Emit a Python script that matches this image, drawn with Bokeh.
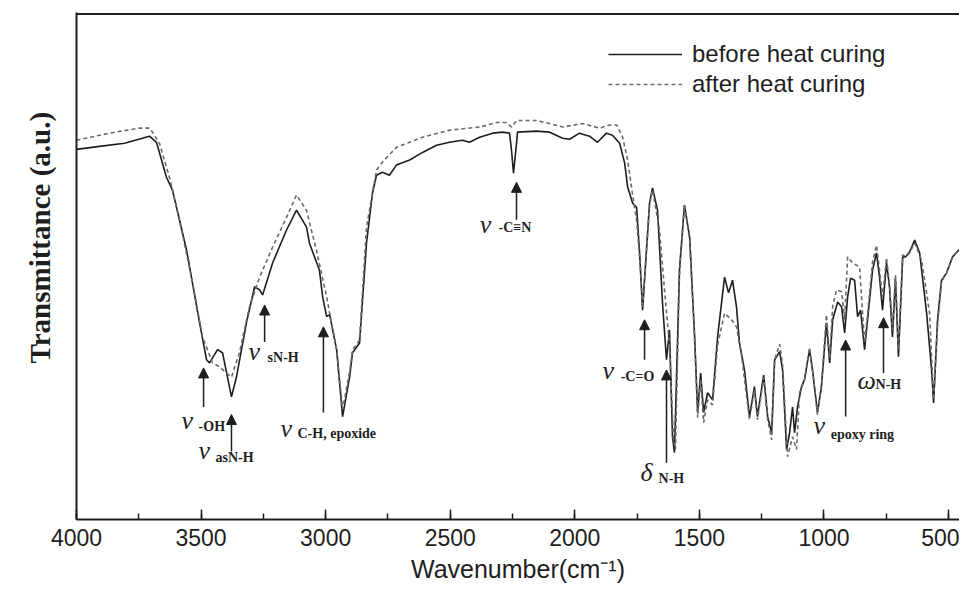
from bokeh.plotting import figure
from bokeh.models import (Range1d, SingleIntervalTicker, Span, Arrow, NormalHead,
                          Legend, LegendItem, ColumnDataSource, Title)
from bokeh.core.properties import value
from bokeh.embed import file_html
from bokeh.resources import INLINE

# ---------------- data (wavenumber cm^-1, transmittance a.u.) ----------------
before_wn = [4000, 3908, 3807, 3707, 3679, 3639, 3615, 3558, 3506, 3478, 3466, 3434, 3414,
             3378, 3358, 3318, 3285, 3265, 3253, 3213, 3157, 3117, 3077, 3065, 3025, 3012,
             2996, 2984, 2956, 2932, 2904, 2892, 2864, 2836, 2812, 2796, 2772, 2744, 2716,
             2663, 2611, 2555, 2503, 2451, 2423, 2382, 2330, 2290, 2262, 2254, 2246, 2234,
             2230, 2154, 2101, 2049, 2021, 1981, 1941, 1909, 1873, 1849, 1820, 1800, 1788,
             1768, 1752, 1740, 1728, 1700, 1688, 1668, 1648, 1632, 1620, 1608, 1600, 1580,
             1560, 1539, 1519, 1507, 1495, 1483, 1467, 1447, 1427, 1399, 1383, 1367, 1351,
             1339, 1319, 1299, 1279, 1267, 1242, 1226, 1210, 1198, 1178, 1166, 1150, 1138,
             1126, 1118, 1106, 1090, 1078, 1058, 1046, 1026, 1010, 990, 977, 965, 945, 929,
             917, 905, 893, 877, 865, 853, 837, 825, 805, 789, 777, 765, 749, 737, 725, 713,
             701, 684, 672, 656, 636, 616, 588, 568, 560, 544, 528, 508, 484, 448, 428]
before_t = [73.0, 73.6, 74.2, 75.6, 74.4, 67.5, 65.0, 53.1, 38.8, 31.5, 30.9, 33.5, 32.9,
            24.2, 28.1, 38.8, 45.9, 45.3, 44.3, 50.6, 57.1, 61.0, 57.7, 54.5, 49.2, 43.9,
            40.0, 40.4, 33.5, 20.3, 28.1, 32.9, 34.8, 54.5, 64.4, 67.9, 68.5, 67.9, 69.9,
            70.9, 72.4, 73.8, 74.4, 74.8, 74.4, 75.4, 76.2, 76.4, 76.2, 72.8, 68.3, 74.2,
            76.4, 76.6, 76.4, 75.2, 75.0, 76.2, 75.6, 74.4, 76.2, 75.8, 74.2, 70.3, 65.6,
            62.4, 61.6, 52.6, 41.3, 62.4, 65.4, 61.0, 42.7, 31.5, 37.4, 16.3, 13.2, 49.2,
            62.0, 55.7, 36.0, 21.1, 28.9, 21.1, 25.0, 23.6, 36.0, 47.8, 44.7, 47.2, 41.9,
            34.8, 29.5, 20.3, 26.2, 20.3, 28.5, 20.3, 17.1, 31.5, 33.1, 29.5, 13.8, 17.1,
            22.2, 17.1, 22.2, 26.2, 27.6, 33.5, 29.5, 21.1, 26.2, 38.8, 30.9, 39.4, 42.9, 41.9,
            36.8, 43.9, 47.6, 47.2, 40.0, 41.3, 33.5, 39.4, 49.2, 52.6, 47.8, 41.3, 50.6, 45.9, 36.0, 47.6,
            32.1, 51.8, 51.8, 52.8, 55.1, 52.6, 40.7, 29.5, 23.0, 39.4, 47.2, 48.6, 51.8, 53.7, 55.1]

after_wn = [4000, 3868, 3747, 3707, 3695, 3667, 3627, 3587, 3534, 3494, 3454, 3426, 3398,
            3378, 3346, 3306, 3265, 3213, 3157, 3117, 3077, 3037, 2996, 2984, 2956, 2932,
            2904, 2892, 2864, 2836, 2796, 2772, 2716, 2611, 2503, 2382, 2314, 2274, 2254,
            2234, 2154, 2101, 2049, 1969, 1901, 1861, 1832, 1808, 1788, 1768, 1752, 1736,
            1728, 1700, 1688, 1660, 1640, 1620, 1604, 1596, 1580, 1560, 1539, 1519, 1507,
            1495, 1483, 1467, 1447, 1427, 1399, 1371, 1351, 1331, 1299, 1279, 1267, 1242,
            1226, 1210, 1198, 1178, 1166, 1146, 1126, 1110, 1098, 1078, 1058, 1046, 1026,
            1010, 990, 977, 965, 949, 929, 917, 905, 885, 857, 837, 825, 805, 789, 777, 765,
            749, 737, 725, 713, 701, 684, 672, 656, 636, 608, 576, 560, 544, 528, 508, 484,
            448, 428]
after_t = [74.8, 76.2, 77.2, 77.2, 76.4, 74.2, 67.5, 59.1, 46.7, 36.0, 30.9, 30.1, 28.9,
           28.1, 32.9, 41.9, 47.8, 53.7, 59.6, 64.0, 61.0, 53.1, 43.9, 40.7, 33.5, 21.7,
           29.1, 33.5, 35.4, 57.7, 68.9, 70.5, 73.4, 75.4, 76.8, 77.4, 78.3, 78.3, 77.4,
           78.7, 78.7, 78.1, 77.4, 78.1, 77.2, 77.8, 77.8, 75.4, 70.9, 64.0, 59.1, 49.2,
           41.7, 62.0, 65.0, 57.1, 45.3, 34.4, 15.7, 13.8, 48.2, 62.0, 55.1, 35.4, 20.1,
           27.6, 19.1, 23.6, 22.6, 34.4, 40.7, 39.4, 38.0, 32.5, 19.7, 25.6, 19.7, 28.0,
           19.7, 15.7, 31.5, 34.6, 30.5, 12.4, 16.3, 13.8, 25.0, 27.6, 33.9, 29.5, 20.7,
           26.6, 40.4, 31.9, 42.1, 45.3, 44.9, 39.4, 51.8, 50.6, 49.8, 34.8, 40.4, 50.8, 54.1, 49.2, 43.9,
           51.6, 46.3, 37.4, 48.2, 33.5, 52.2, 51.8, 52.6, 54.5, 51.2, 40.7, 23.6, 38.4, 46.9, 48.6, 51.8,
           53.7, 55.1]

series_labels = ["before heat curing", "after heat curing"]

# band assignments: symbol, subscript, arrow wavenumber, arrow tip / tail (a.u.),
# symbol anchor (wn, a.u.), subscript anchor (wn, a.u.)
ann_symbol = ["ν", "ν", "ν", "ν", "ν", "ν", "δ", "ν", "ω"]
ann_sub = ["-OH", "asN-H", "sN-H", "C-H, epoxide", "-C≡N", "-C=O", "N-H", "epoxy ring", "N-H"]
ann_arrow_wn = [3490, 3378, 3245, 3009, 2234, 1720, 1632, 913, 761]
ann_arrow_tip = [29.9, 20.7, 42.3, 38.0, 66.5, 39.4, 29.5, 35.4, 39.8]
ann_arrow_tail = [22.2, 13.4, 35.0, 21.1, 59.1, 31.5, 11.2, 20.3, 28.9]
ann_sym_wn = [3579, 3510, 3310, 3181, 2382, 1889, 1736, 1042, 865]
ann_sym_t = [19.5, 13.6, 33.1, 17.9, 58.1, 29.3, 9.3, 18.5, 27.4]
ann_sub_wn = [3510, 3442, 3233, 3113, 2306, 1816, 1664, 973, 793]
ann_sub_t = [18.3, 12.2, 31.9, 16.9, 57.5, 28.3, 8.1, 16.7, 26.6]

# ---------------- figure ----------------
INK = "#1e1e1e"
p = figure(width=959, height=587, output_backend="svg", toolbar_location=None,
           x_range=Range1d(4000, 456), y_range=Range1d(0, 100),
           min_border_left=76, min_border_right=0, min_border_top=12, min_border_bottom=68)
p.outline_line_color = None
p.grid.visible = False
p.background_fill_color = "white"

r1 = p.line(before_wn, before_t, line_color=INK, line_width=1.6)
r2 = p.line(after_wn, after_t, line_color="#6a6a6a", line_width=1.6, line_dash="4 3")

# x axis
xa = p.xaxis[0]
xa.ticker = SingleIntervalTicker(interval=500, num_minor_ticks=2)
xa.axis_line_width = 2
xa.axis_line_color = INK
xa.major_tick_in = 10
xa.major_tick_out = 0
xa.minor_tick_in = 6
xa.minor_tick_out = 0
xa.major_tick_line_width = 1.5
xa.minor_tick_line_width = 1.5
xa.major_tick_line_color = INK
xa.minor_tick_line_color = INK
xa.major_label_text_font = "Liberation Sans"
xa.major_label_text_font_size = "23px"
xa.major_label_text_color = INK
xa.major_label_standoff = 9
xa.axis_label = "Wavenumber(cm⁻¹)"
xa.axis_label_text_font = "Liberation Sans"
xa.axis_label_text_font_size = "25px"
xa.axis_label_text_font_style = "normal"
xa.axis_label_text_color = INK
xa.axis_label_standoff = 6

# y axis (no ticks)
ya = p.yaxis[0]
ya.ticker = []
ya.axis_line_width = 2
ya.axis_line_color = INK
ya.major_tick_line_color = None
ya.minor_tick_line_color = None
ya.major_label_text_font_size = "0px"

ytitle = Title(text="Transmittance (a.u.)", align="left", offset=156, standoff=38,
               vertical_align="top",
               text_font="Liberation Serif", text_font_size="29px", text_font_style="bold",
               text_color=INK)
p.add_layout(ytitle, "left")

p.add_layout(Span(location=99.7, dimension="width", line_color=INK, line_width=2))

# arrows
for wn, tip, tail in zip(ann_arrow_wn, ann_arrow_tip, ann_arrow_tail):
    p.add_layout(Arrow(x_start=wn, y_start=tail, x_end=wn, y_end=tip,
                       line_color=INK, line_width=1.5,
                       end=NormalHead(size=10, fill_color=INK, line_color=INK, line_width=1)))

sym_src = ColumnDataSource(dict(x=ann_sym_wn, y=ann_sym_t, t=ann_symbol))
sub_src = ColumnDataSource(dict(x=ann_sub_wn, y=ann_sub_t, t=ann_sub))
p.text(x="x", y="y", text="t", source=sym_src, text_font=value("Liberation Serif"),
       text_font_size="26px", text_font_style="italic", text_color=INK,
       text_align="left", text_baseline="middle")
p.text(x="x", y="y", text="t", source=sub_src, text_font=value("Liberation Serif"),
       text_font_size="14px", text_font_style="bold", text_color=INK,
       text_align="left", text_baseline="middle")

legend = Legend(items=[LegendItem(label=series_labels[0], renderers=[r1]),
                       LegendItem(label=series_labels[1], renderers=[r2])],
                location=(532, 421), padding=0, margin=0, spacing=2,
                glyph_width=74, glyph_height=24, label_height=24, label_standoff=10,
                label_text_font="Liberation Sans", label_text_font_size="24px",
                label_text_color=INK, border_line_color=None, background_fill_alpha=0)
p.add_layout(legend)

open("out.html", "w").write(file_html(p, INLINE))
